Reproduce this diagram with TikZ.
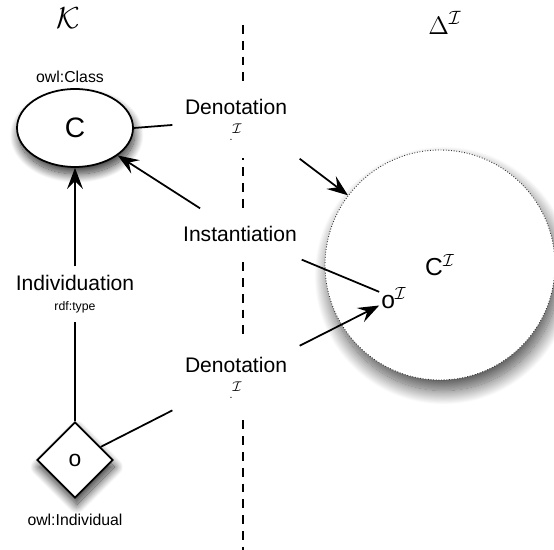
\documentclass[tikz,border=0pt]{standalone}
\usepackage{amsmath}
\usepackage{fontspec}
\setmainfont{Liberation Sans}
\usepackage{tikz}
\usetikzlibrary{arrows.meta, shapes.geometric, shadows.blur}

\begin{document}
\begin{tikzpicture}[
            concept/.style={draw, ellipse, fill=white, line width=1pt,
                        minimum width=2.32cm, minimum height=1.56cm,
                        font=\fontsize{16}{18}\selectfont,
                        blur shadow={shadow xshift=1pt, shadow yshift=-4pt, shadow blur steps=20,
                                     shadow blur radius=5pt, shadow opacity=80}},
            indiv/.style={draw, diamond, fill=white, line width=1pt,
                        minimum size=1.52cm, inner sep=0pt,
                        font=\fontsize{13}{15}\selectfont,
                        blur shadow={shadow xshift=1pt, shadow yshift=-4pt, shadow blur steps=20,
                                     shadow blur radius=5pt, shadow opacity=80}},
            interp/.style={draw=black!80, circle, fill=white, densely dotted, line width=0.5pt,
                        minimum size=4.6cm, inner sep=0pt,
                        font=\fontsize{14}{16}\selectfont,
                        blur shadow={shadow xshift=2pt, shadow yshift=-6pt, shadow blur steps=20,
                                     shadow blur radius=8pt, shadow opacity=70}},
            arr/.style={-{Stealth[length=12pt, width=9pt, inset=4.5pt]}, line width=1pt},
            link/.style={line width=1pt},
            lab/.style={fill=white, align=center, inner xsep=7pt, inner ysep=10pt,
                        font=\fontsize{12}{14}\selectfont},
            tag/.style={font=\fontsize{9}{11}\selectfont}
        ]

        \useasboundingbox (0,0) rectangle (11.08,11);

        % Headings
        \node (kb) at (1.36,10.64) {\fontsize{16}{18}\selectfont $\mathcal{K}$};
        \node (dom) at (8.9,10.54) {\fontsize{15}{17}\selectfont $\Delta^{\mathcal{I}}$};

        % Separator
        \draw[line width=0.9pt, dash pattern=on 5pt off 4pt] (4.86,10.5) -- (4.86,0);

        % Nodes
        \node[concept] (C) at (1.5,8.44) {C};
        \node[tag] (cls) at (1.4,9.46) {owl:Class};
        \node[indiv] (o) at (1.5,1.8) {o};
        \node[tag] (ind) at (1.5,0.6) {owl:Individual};
        \node[interp] (CI) at (8.8,5.7) {C$^{\mathcal{I}}$};
        \node[inner sep=1pt, font=\fontsize{14}{16}\selectfont] (oI) at (7.88,5.04) {o$^{\mathcal{I}}$};

        % Labels
        \node[lab] (den1) at (4.72,8.6)
            {Denotation\\[1pt]{\fontsize{6}{7}\selectfont .}$^{\mathcal{I}}$};
        \node[lab] (inst) at (4.8,6.32) {Instantiation};
        \node[lab] (den2) at (4.72,3.44)
            {Denotation\\[1pt]{\fontsize{6}{7}\selectfont .}$^{\mathcal{I}}$};
        \node[lab, inner ysep=5pt] (idv) at (1.5,5.12)
            {Individuation\\[-3pt]{\fontsize{7}{8}\selectfont rdf:type}};

        % Connectors
        \draw[link] (C.east) -- (den1);
        \draw[arr] (den1.south east) -- (CI);
        \draw[arr] (inst) -- (C);
        \draw[link] (inst) -- (oI);
        \draw[arr] (idv) -- (C);
        \draw[link] (o) -- (idv);
        \draw[link] (o) -- (den2);
        \draw[arr] (den2) -- (oI);

        \end{tikzpicture}
\end{document}
